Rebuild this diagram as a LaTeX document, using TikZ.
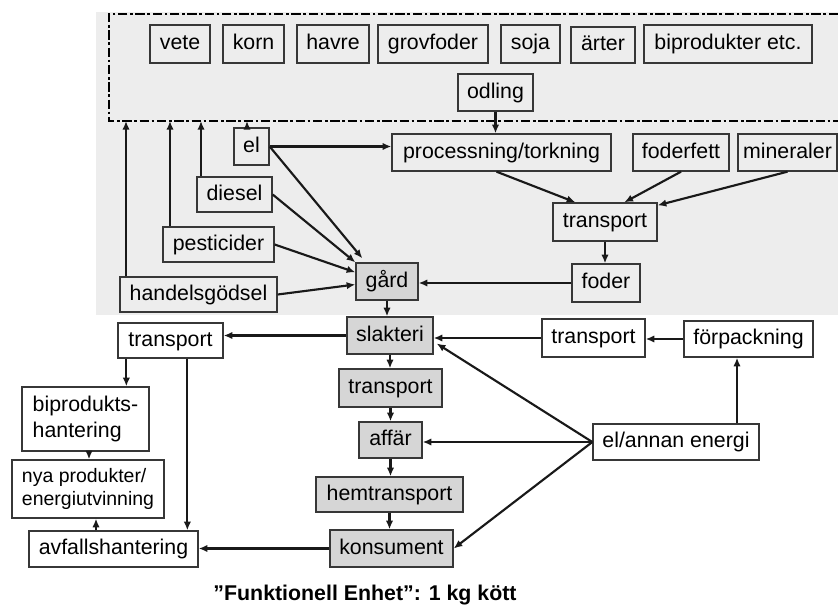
\documentclass[tikz,border=0pt]{standalone}
\usepackage{fontspec}
\setmainfont{Liberation Sans}
\usetikzlibrary{arrows.meta,calc}
\definecolor{bgc}{RGB}{237,237,237}
\definecolor{boxg}{RGB}{214,214,214}
\definecolor{edgec}{RGB}{55,55,55}
\begin{document}
\begin{tikzpicture}[x=0.75pt,y=-0.75pt,
  base/.style 2 args={draw=edgec, line width=1pt, inner sep=0pt,
    minimum width=#1*0.75pt, minimum height=#2*0.75pt},
  bx/.style 2 args={base={#1}{#2}, text height=12pt, text depth=3.5pt,
    font=\fontsize{16}{17}\selectfont},
  gbx/.style 2 args={bx={#1}{#2}, fill=boxg},
  mbx/.style 2 args={base={#1}{#2}, align=left, font=\fontsize{16}{19.5}\selectfont},
  arr/.style={line width=1.6pt, black!90, -{Latex[length=6.5pt,width=5.5pt]}},
  ]
\useasboundingbox (0,0) rectangle (838,606);
\fill[bgc] (96,12) rectangle (838,315);
\draw[line width=1.2pt, dash pattern=on 7pt off 2pt on 2pt off 2pt]
  (838,14) -- (109,14) -- (109,121) -- (838,121);

% top row
\node[bx={60}{38}] (vete) at (180,44) {vete};
\node[bx={61}{38}] (korn) at (253.5,44) {korn};
\node[bx={72}{38}] (havre) at (333,44) {havre};
\node[bx={110}{38}] (grov) at (433,44) {grovfoder};
\node[bx={59}{38}] (soja) at (530.5,44) {soja};
\node[bx={64}{36}] (arter) at (603,45) {ärter};
\node[bx={168}{38}] (bipr) at (728,44) {biprodukter etc.};
\node[bx={75}{37}] (odling) at (495.5,92.5) {odling};

% upper region
\node[bx={35}{37}] (el) at (251.5,146.5) {el};
\node[bx={219}{37}] (proc) at (501.5,152.5) {processning/torkning};
\node[bx={96}{37}] (fett) at (681,152.5) {foderfett};
\node[bx={99}{37}] (min) at (787.5,152.5) {mineraler};
\node[bx={75}{35}] (diesel) at (234.5,194.5) {diesel};
\node[bx={111}{35}] (pest) at (218.5,244.5) {pesticider};
\node[bx={157}{35}] (hand) at (198.5,294.5) {handelsgödsel};
\node[gbx={62}{37}] (gard) at (387,281.5) {gård};
\node[bx={104}{38}] (trA) at (605,222) {transport};
\node[bx={68}{38}] (foder) at (606,283) {foder};

% lower region
\node[gbx={86}{37}] (slakt) at (390,335.5) {slakteri};
\node[bx={105}{35}] (trL) at (170.5,340.5) {transport};
\node[gbx={103}{38}] (trM) at (390.5,388) {transport};
\node[gbx={63}{36}] (affar) at (390.5,440) {affär};
\node[gbx={147}{35}] (hem) at (389.5,494.5) {hemtransport};
\node[gbx={123}{37}] (kons) at (391.5,548.5) {konsument};
\node[bx={103}{38}] (trR) at (593.5,338) {transport};
\node[bx={129}{36}] (forp) at (748.5,339) {förpackning};
\node[bx={166}{36}] (elan) at (676,442) {el/annan energi};
\node[mbx={127}{64}] (bip) at (85.5,419) {biprodukts-\\hantering};
\node[mbx={152}{58}, font=\fontsize{14.6}{17.5}\selectfont] (nya) at (88,489) {nya produkter/\\energiutvinning};
\node[bx={169}{36}] (avf) at (113.5,549) {avfallshantering};
\node[font=\bfseries\fontsize{16}{18}\selectfont] (cap) at (365,595) {”Funktionell Enhet”: 1 kg kött};

% arrows to the dashed box
\coordinate (t1) at (126,121);
\coordinate (t2) at (170,121);
\coordinate (t3) at (201,121);
\coordinate (t4) at (247,121);
\draw[arr] (t1 |- hand.north) -- (t1);
\draw[arr] (t2 |- pest.north) -- (t2);
\draw[arr] (t3 |- diesel.north) -- (t3);
\draw[arr] (t4 |- el.north) -- (t4);

\draw[arr] (odling.south) -- (odling.south |- proc.north);
\draw[arr] (el.east) -- (el.east -| proc.west);
\draw[arr] (el.east) -- ($(gard.north west)+(7,-4)$);
\draw[arr] (diesel.east) -- (gard.north west);
\draw[arr] (pest.east) -- ($(gard.north west)+(0,10)$);
\draw[arr] (hand.east) -- ($(gard.west)+(0,3)$);
\draw[arr] ($(proc.south)+(-5,0)$) -- ($(trA.north west)+(23,0)$);
\draw[arr] (fett.south) -- ($(trA.north west)+(72,0)$);
\draw[arr] (min.south) -- ($(trA.north east)+(0,3)$);
\draw[arr] (trA.south) -- (trA.south |- foder.north);
\draw[arr] (foder.west) -- (foder.west -| gard.east);
\draw[arr] (gard.south) -- (gard.south |- slakt.north);

\draw[arr] (slakt.west) -- (slakt.west -| trL.east);
\draw[arr] (trR.west) -- (trR.west -| slakt.east);
\draw[arr] (forp.west) -- (forp.west -| trR.east);
\coordinate (e1) at ($(elan.north)+(61,0)$);
\draw[arr] (e1) -- (e1 |- forp.south);
\draw[arr] (elan.west) -- ($(slakt.east)+(3,8)$);
\draw[arr] (elan.west) -- (elan.west -| affar.east);
\draw[arr] (elan.west) -- (kons.east);

\draw[arr] (slakt.south) -- (slakt.south |- trM.north);
\draw[arr] (trM.south) -- (trM.south |- affar.north);
\draw[arr] (affar.south) -- (affar.south |- hem.north);
\draw[arr] (hem.south) -- (hem.south |- kons.north);

\coordinate (l1) at ($(trL.south west)+(9,0)$);
\draw[arr] (l1) -- (l1 |- bip.north);
\coordinate (l2) at ($(trL.south west)+(70,0)$);
\draw[arr] (l2) -- (l2 |- avf.north);
\coordinate (l3) at ($(bip.south)+(3.5,0)$);
\draw[arr] (l3) -- (l3 |- nya.north);
\coordinate (l4) at ($(avf.north)+(-17.5,0)$);
\draw[arr] (l4) -- (l4 |- nya.south);
\draw[arr] (kons.west) -- (kons.west -| avf.east);
\end{tikzpicture}
\end{document}
